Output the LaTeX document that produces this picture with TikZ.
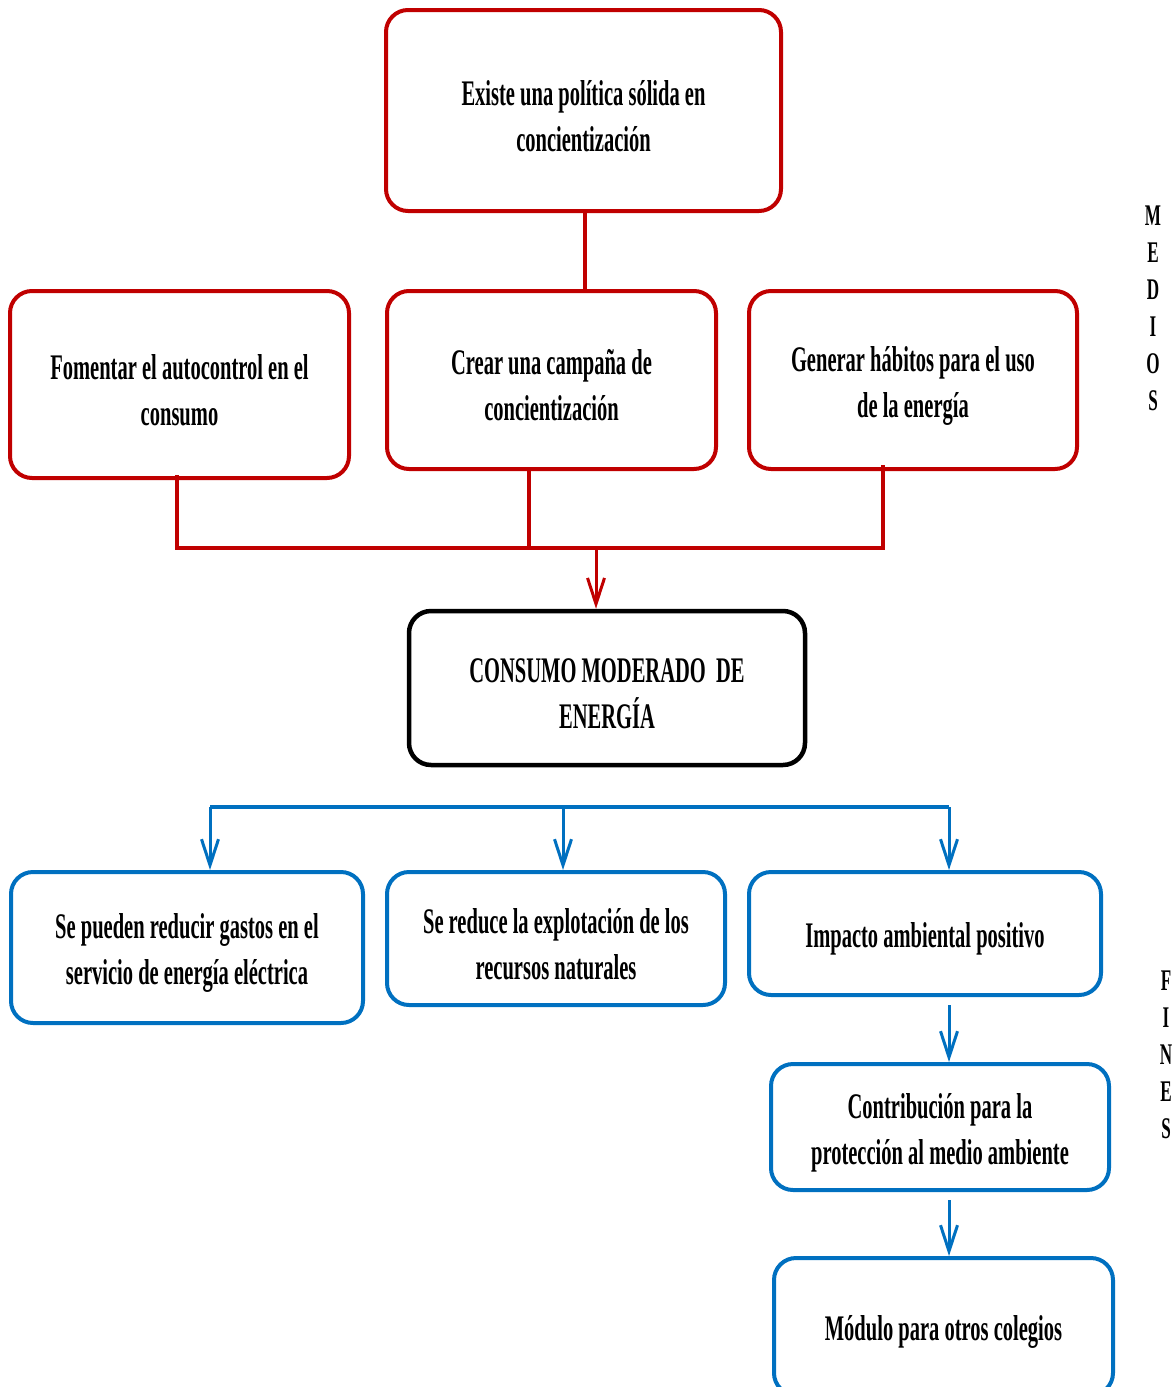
\documentclass[tikz,border=0pt]{standalone}
\usepackage{fontspec}
\usepackage{xcolor}
\usepackage{tikz}
\usetikzlibrary{arrows.meta}
\newfontfamily\letra[FakeStretch=0.57]{Liberation Serif}
\definecolor{rojo}{HTML}{C00000}
\definecolor{azul}{HTML}{0070C0}
% puntal para bajar un poco el texto de las cajas
\newcommand{\alto}{\rule{0pt}{36pt}}

\begin{document}
\begin{tikzpicture}[
    x=1pt, y=-1pt,
    caja/.style={
        rectangle,
        rounded corners=22pt,
        draw,
        line width=4pt,
        inner sep=0pt,
        align=center,
        fill=white,
        font=\letra\bfseries\fontsize{36}{46}\selectfont,
    },
    medio/.style={caja, draw=rojo},
    problema/.style={caja, draw=black, line width=4.5pt},
    fin/.style={caja, draw=azul},
    lado/.style={align=center, inner sep=0pt,
        font=\letra\bfseries\fontsize{30}{37}\selectfont},
    linea/.style={line width=4pt},
    flecha/.style={-{Straight Barb[length=26pt, width=17pt, line width=3pt]}, line width=3pt},
]
\useasboundingbox (0,0) rectangle (1173,1387);

% medios
\node[medio, minimum width=395, minimum height=201] (politica) at (583.5, 110.5)
    {\alto Existe una política sólida en\\concientización};
\node[medio, minimum width=339, minimum height=187] (autocontrol) at (179.5, 384.5)
    {\alto Fomentar el autocontrol en el\\consumo};
\node[medio, minimum width=329, minimum height=178] (campana) at (551.5, 380)
    {\alto Crear una campaña de\\concientización};
\node[medio, minimum width=328, minimum height=178] (habitos) at (913, 380)
    {\alto Generar hábitos para el uso\\de la energía};

% problema central
\node[problema, minimum width=396, minimum height=154] (consumo) at (607, 688)
    {\alto CONSUMO MODERADO\ \ DE\\ENERGÍA};

% fines
\node[fin, minimum width=352, minimum height=151] (gastos) at (187, 947.5)
    {\alto Se pueden reducir gastos en el\\servicio de energía eléctrica};
\node[fin, minimum width=338, minimum height=133] (recursos) at (556, 938.5)
    {\alto Se reduce la explotación de los\\recursos naturales};
\node[fin, minimum width=352, minimum height=123] (impacto) at (925, 933.5)
    {\alto Impacto ambiental positivo};
\node[fin, minimum width=338, minimum height=126] (contribucion) at (940, 1127)
    {\alto Contribución para la\\protección al medio ambiente};
\node[fin, minimum width=339, minimum height=137] (modulo) at (943.5, 1326.5)
    {\alto Módulo para otros colegios};

\node[lado] (medios) at (1153, 308) {M\\E\\D\\I\\O\\S};
\node[lado] (fines)  at (1166, 1055) {F\\I\\N\\E\\S};

% conectores rojos
\coordinate (barraR) at (596, 548);
\draw[linea, rojo] ([xshift=1.5pt]politica.south) -- ([xshift=1.5pt]politica.south |- campana.north);
\draw[linea, rojo] ([xshift=-2.5pt, yshift=5pt]autocontrol.south) |- (barraR)
    -| ([xshift=-30pt, yshift=6pt]habitos.south);
\draw[linea, rojo] ([xshift=-22.5pt]campana.south) -- ([xshift=-22.5pt]campana.south |- barraR);
\draw[flecha, rojo] (barraR) -- (barraR |- consumo.north);

% conectores azules
\coordinate (barraA) at (210, 807);
\coordinate (barraB) at (949, 807);
\draw[linea, azul] (barraA) -- (barraB);
\draw[flecha, azul] (barraA) -- (barraA |- gastos.north);
\draw[flecha, azul] ([xshift=7pt]recursos.north |- barraA) -- ([xshift=7pt]recursos.north);
\draw[flecha, azul] (barraB) -- (barraB |- impacto.north);
\draw[flecha, azul] ([yshift=-8pt]impacto.south -| barraB) -- (barraB |- contribucion.north);
\draw[flecha, azul] ([yshift=-8pt]contribucion.south -| barraB) -- (barraB |- modulo.north);

\end{tikzpicture}
\end{document}
